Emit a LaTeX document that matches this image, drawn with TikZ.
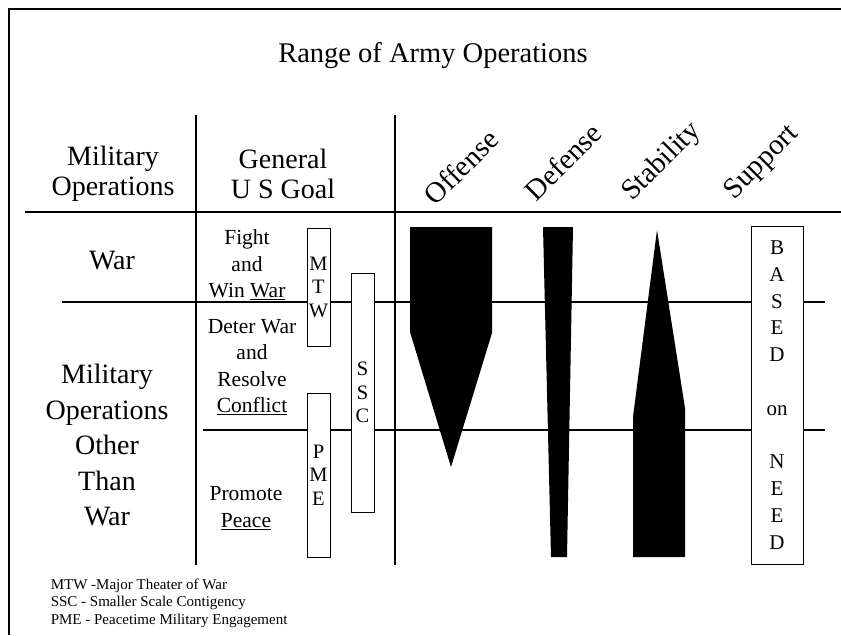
\documentclass[tikz,border=0pt]{standalone}
\usepackage{fontspec}
\setmainfont{Liberation Serif}
\begin{document}
\begin{tikzpicture}[x=1pt, y=-1pt, line width=1.6pt,
  head node/.style={font=\fontsize{28}{30}\selectfont, align=center},
  goal node/.style={font=\fontsize{21.5}{26.5}\selectfont, align=center},
  letter box/.style={draw, fill=white, line width=1pt, minimum width=23pt, align=center, font=\fontsize{20.5}{23.5}\selectfont},
  op label/.style={font=\fontsize{29}{30}\selectfont, rotate=45}]
        \tikzstyle{every node}=[inner sep=0pt]
        \useasboundingbox (0,0) rectangle (841,635);

          % frame and table rules
          \draw (9,635) -- (9,9) -- (841,9);
          \draw (25,212) -- (841,212);
          \draw (62,302) -- (825,302);
          \draw (203,430) -- (825,430);
          \draw (196,115) -- (196,565);
          \draw (395,115) -- (395,565);

          \node[head node] (title) at (433,56) {\fontsize{28.5}{32}\selectfont Range of Army Operations};
          \node[head node] (milops) at (113,174) {Military\\Operations};
          \node[head node] (goal) at (283,174) {General\\U S Goal};
          \node[head node, anchor=base] (war) at (112,269) {War};
          \node[head node, font=\fontsize{28}{35.5}\selectfont] (mootw) at (107,445) {Military\\Operations\\Other\\Than\\War};

          \node[op label] (off) at (461,167) {Offense};
          \node[op label] (def) at (563,162) {Defense};
          \node[op label] (stab) at (662,162) {Stability};
          \node[op label] (supp) at (762,163) {Support};

          \node[goal node] (fight) at (247,265) {Fight\\and\\Win \underline{War}};
          \node[goal node] (deter) at (252,367) {Deter War\\and\\Resolve\\\underline{Conflict}};
          \node[goal node] (peace) at (246,508) {Promote\\\underline{Peace}};

          \node[letter box, minimum height=118pt] (mtw) at (318.5,287) {M\\T\\W};
          \node[letter box, minimum height=239pt] (ssc) at (362.5,392.5) {S\\S\\C};
          \node[letter box, minimum height=164pt] (pme) at (318.5,475) {P\\M\\E};

          % offense, defense, stability
          \fill (410,227) -- (492,227) -- (492,333) -- (451,467) -- (410,332) -- cycle;
          \fill (543,227) -- (573,227) -- (567,557) -- (551,557) -- cycle;
          \fill (657,230) -- (685,408) -- (685,557) -- (633,557) -- (633,417) -- cycle;

          \node[letter box, minimum width=52pt, minimum height=338pt, font=\fontsize{21}{26.8}\selectfont] (need) at (777,395)
            {B\\A\\S\\E\\D\\[26.8pt]on\\[26.8pt]N\\E\\E\\D};

          \node[anchor=north west, align=left, font=\fontsize{15}{17.5}\selectfont] (key) at (50,578)
            {MTW -Major Theater of War\\SSC - Smaller Scale Contigency\\PME - Peacetime Military Engagement};

\end{tikzpicture}
\end{document}
